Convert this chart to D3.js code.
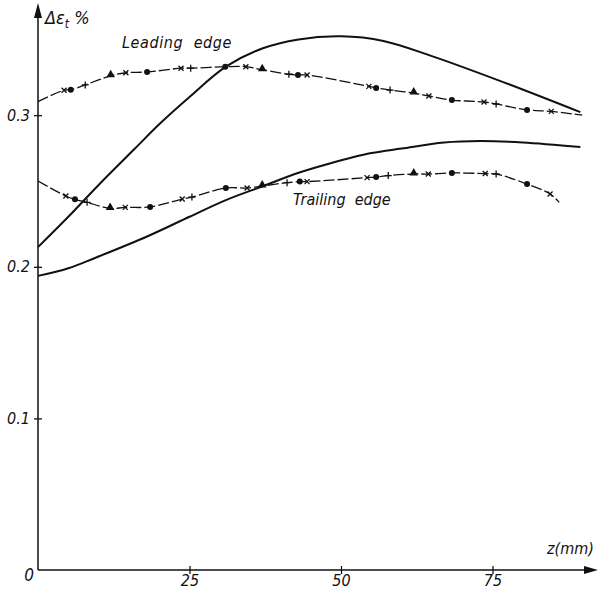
<!DOCTYPE html>
<html lang="en">
<head>
<meta charset="UTF-8">
<title></title>
<style>
    body { margin: 0; background: #fff; }
    text {
        font-family: "Liberation Sans Narrow", "DejaVu Sans Condensed", "Liberation Sans", sans-serif;
        font-style: italic;
        fill: #111;
    }
    .curve { fill: none; stroke: #111; stroke-width: 2; }
    .meas { fill: none; stroke: #111; stroke-width: 1.3; stroke-dasharray: 11 3; }
    .lbl { white-space: pre; }
</style>
</head>
<body>
<svg id="chart"></svg>
<script src="https://cdnjs.cloudflare.com/ajax/libs/d3/7.8.5/d3.min.js"></script>
<script>
var width = 599, height = 590;

// solid curve rising steeply (peak near z = 50)
var steepZ   = [0, 5, 10, 16, 20, 25, 31, 37, 43, 50, 57, 65, 76, 89.5];
var steepEps = [0.213, 0.233, 0.254, 0.278, 0.294, 0.312, 0.332, 0.344, 0.350, 0.352, 0.349, 0.339, 0.323, 0.302];

// solid curve starting low
var lowZ   = [0, 5, 9.5, 18, 25, 31, 37, 43, 48, 55, 60, 67, 73, 80, 89.5];
var lowEps = [0.194, 0.199, 0.206, 0.220, 0.233, 0.244, 0.253, 0.262, 0.268, 0.275, 0.278, 0.282, 0.283, 0.282, 0.279];

// measured points, leading edge ("" = no symbol)
var leadZ   = [0, 4.3, 5.4, 7.8, 12.0, 14.5, 18.0, 23.6, 25.2, 30.9, 34.3, 37.0, 41.4, 42.9, 44.4, 54.6, 55.8, 58.1, 62.0, 64.5, 68.3, 73.6, 75.6, 80.7, 84.7, 89.8];
var leadEps = [0.309, 0.3165, 0.3168, 0.320, 0.326, 0.328, 0.3285, 0.331, 0.331, 0.332, 0.332, 0.330, 0.327, 0.3265, 0.3265, 0.319, 0.318, 0.3166, 0.3146, 0.3127, 0.310, 0.3087, 0.3074, 0.3035, 0.3025, 0.300];
var leadSym = ["", "x", "o", "+", "^", "x", "o", "x", "+", "o", "x", "^", "+", "o", "x", "x", "o", "+", "^", "x", "o", "x", "+", "o", "x", ""];

// measured points, trailing edge
var trailZ   = [0, 4.6, 6.1, 8.1, 11.9, 14.4, 18.5, 23.8, 25.4, 31.0, 34.5, 37.0, 41.1, 43.2, 44.4, 54.3, 55.8, 57.8, 62.0, 64.4, 68.3, 73.8, 75.6, 80.7, 84.5, 86.0];
var trailEps = [0.2566, 0.2467, 0.2445, 0.2425, 0.2385, 0.2392, 0.2395, 0.2447, 0.246, 0.252, 0.252, 0.2533, 0.2555, 0.2562, 0.2562, 0.2588, 0.2592, 0.2602, 0.2612, 0.2612, 0.2619, 0.2615, 0.2612, 0.2546, 0.248, 0.2425];
var trailSym = ["", "x", "o", "+", "^", "x", "o", "x", "+", "o", "x", "^", "+", "o", "x", "x", "o", "+", "^", "x", "o", "x", "+", "o", "x", ""];

var xTicks = [25, 50, 75];
var yTicks = [0.1, 0.2, 0.3];

var svg = d3.select("#chart").attr("width", width).attr("height", height);

var x = d3.scaleLinear().domain([0, 90]).range([38, 583.4]);
var y = d3.scaleLinear().domain([0, 0.3]).range([570, 115.2]);

// axes
var xAxis = svg.append("g")
    .attr("transform", "translate(0," + y(0) + ")")
    .call(d3.axisBottom(x).tickValues(xTicks).tickSize(4).tickFormat(d3.format("d")));
xAxis.select(".domain").remove();
xAxis.selectAll(".tick line").attr("y1", -4).attr("stroke-width", 1.2);
xAxis.selectAll(".tick text").attr("font-size", 16).attr("font-family", null)
    .attr("y", 16).attr("dy", 0);

var yAxis = svg.append("g")
    .attr("transform", "translate(" + x(0) + ",0)")
    .call(d3.axisLeft(y).tickValues(yTicks).tickSize(4).tickPadding(4).tickFormat(d3.format(".1f")));
yAxis.select(".domain").remove();
yAxis.selectAll(".tick line").attr("x1", 4).attr("stroke-width", 1.2);
yAxis.selectAll(".tick text").attr("font-size", 16).attr("font-family", null);

svg.append("line").attr("x1", x(0)).attr("x2", 588).attr("y1", y(0)).attr("y2", y(0))
    .attr("stroke", "#111").attr("stroke-width", 1.5);
svg.append("path").attr("d", "M598," + y(0) + "L584," + (y(0) - 4) + "L584," + (y(0) + 4) + "Z").attr("fill", "#111");
svg.append("line").attr("x1", x(0)).attr("x2", x(0)).attr("y1", y(0)).attr("y2", 14)
    .attr("stroke", "#111").attr("stroke-width", 1.5);
svg.append("path").attr("d", "M" + x(0) + ",3L" + (x(0) - 4) + ",18L" + (x(0) + 4) + ",18Z").attr("fill", "#111");

svg.append("text").attr("x", x(0) - 4).attr("y", y(0) + 11).attr("text-anchor", "end")
    .attr("font-size", 17).text("0");
svg.append("text").attr("x", 547).attr("y", 554).attr("font-size", 16).text("z(mm)");

var yl = svg.append("text").attr("x", 45).attr("y", 24).attr("font-size", 18);
yl.append("tspan").text("\u0394\u03b5");
yl.append("tspan").attr("font-size", 12).attr("dy", 4).text("t");
yl.append("tspan").attr("dy", -4).text(" %");

// curves
function zip(zs, es) { return zs.map(function(z, i) { return [z, es[i]]; }); }
var line = d3.line().x(function(d) { return x(d[0]); }).y(function(d) { return y(d[1]); })
    .curve(d3.curveCatmullRom.alpha(0.5));

svg.append("path").attr("class", "curve").attr("d", line(zip(steepZ, steepEps)));
svg.append("path").attr("class", "curve").attr("d", line(zip(lowZ, lowEps)));
svg.append("path").attr("class", "meas").attr("d", line(zip(leadZ, leadEps)));
svg.append("path").attr("class", "meas").attr("d", line(zip(trailZ, trailEps)));

// symbols
function drawSymbols(zs, es, syms) {
    var pts = zs.map(function(z, i) { return { z: z, e: es[i], s: syms[i] }; })
        .filter(function(d) { return d.s !== ""; });
    var g = svg.append("g");
    g.selectAll("circle").data(pts.filter(function(d) { return d.s === "o"; })).enter()
        .append("circle").attr("cx", function(d) { return x(d.z); }).attr("cy", function(d) { return y(d.e); })
        .attr("r", 3).attr("fill", "#111");
    g.selectAll("path.tri").data(pts.filter(function(d) { return d.s === "^"; })).enter()
        .append("path").attr("class", "tri")
        .attr("d", d3.symbol().type(d3.symbolTriangle).size(32))
        .attr("transform", function(d) { return "translate(" + x(d.z) + "," + (y(d.e) - 1) + ")"; })
        .attr("fill", "#111");
    g.selectAll("path.cr").data(pts.filter(function(d) { return d.s === "x" || d.s === "+"; })).enter()
        .append("path").attr("class", "cr")
        .attr("d", function(d) { return d.s === "x" ? "M-2.5,-2.5L2.5,2.5M-2.5,2.5L2.5,-2.5" : "M-3.5,0L3.5,0M0,-3.5L0,3.5"; })
        .attr("transform", function(d) { return "translate(" + x(d.z) + "," + y(d.e) + ")"; })
        .attr("stroke", "#111").attr("stroke-width", 1.3).attr("fill", "none");
}
drawSymbols(leadZ, leadEps, leadSym);
drawSymbols(trailZ, trailEps, trailSym);

svg.append("text").attr("class", "lbl").attr("x", 122).attr("y", 48).attr("font-size", 16)
    .attr("letter-spacing", 0.6).text("Leading  edge");
svg.append("text").attr("class", "lbl").attr("x", 293).attr("y", 205).attr("font-size", 16)
    .text("Trailing  edge");
</script>
</body>
</html>
